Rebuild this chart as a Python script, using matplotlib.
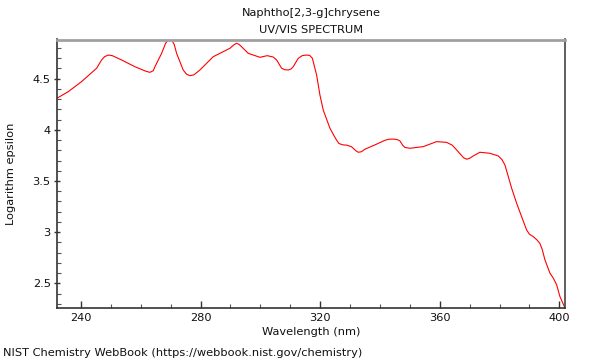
import matplotlib
matplotlib.use("Agg")
import matplotlib.pyplot as plt
from matplotlib.ticker import MultipleLocator

wavelength = [232.0, 235.75, 240.2, 245.25, 246.92, 247.9, 249.13, 250.5, 253.6, 258.06,
              261.8, 263.08, 264.2, 264.75, 266.99, 268.3, 269.2, 270.33, 271.2, 272.0,
              274.2, 275.3, 276.45, 277.8, 279.8, 284.25, 289.83, 291.2, 292.07, 292.9,
              293.75, 295.95, 299.87, 302.3, 304.3, 305.45, 307.12, 308.2, 309.33, 310.3,
              311.0, 312.68, 314.0, 315.25, 316.5, 317.4, 318.1, 318.83, 319.93, 321.04,
              323.28, 324.6, 325.4, 326.3, 327.73, 329.0, 330.5, 332.0, 332.74, 333.8,
              334.98, 338.33, 341.67, 343.0, 344.45, 345.8, 346.69, 347.6, 348.36, 350.03,
              354.48, 358.96, 362.31, 364.2, 365.65, 368.0, 369.0, 370.0, 371.2, 373.44,
              376.79, 379.57, 380.8, 381.81, 384.05, 385.72, 387.39, 389.06, 390.0, 391.27,
              392.5, 393.51, 394.3, 395.18, 396.86, 398.0, 399.1, 400.2, 401.87]
log_eps = [4.309, 4.373, 4.471, 4.602, 4.683, 4.715, 4.731, 4.725, 4.683, 4.617,
           4.572, 4.562, 4.578, 4.617, 4.748, 4.845, 4.878, 4.878, 4.835, 4.748,
           4.585, 4.545, 4.529, 4.538, 4.585, 4.715, 4.797, 4.832, 4.846, 4.835,
           4.812, 4.748, 4.709, 4.725, 4.712, 4.683, 4.602, 4.588, 4.585, 4.595,
           4.617, 4.699, 4.725, 4.731, 4.728, 4.700, 4.620, 4.536, 4.341, 4.194,
           4.016, 3.945, 3.905, 3.866, 3.853, 3.850, 3.835, 3.795, 3.781, 3.786,
           3.811, 3.853, 3.898, 3.908, 3.910, 3.905, 3.892, 3.850, 3.828, 3.820,
           3.836, 3.885, 3.878, 3.850, 3.804, 3.727, 3.713, 3.722, 3.745, 3.781,
           3.771, 3.745, 3.710, 3.657, 3.430, 3.283, 3.152, 3.022, 2.980, 2.957,
           2.925, 2.890, 2.830, 2.730, 2.600, 2.550, 2.486, 2.371, 2.261]

x_ticks = [240, 280, 320, 360, 400]
y_ticks = [2.5, 3.0, 3.5, 4.0, 4.5]
y_tick_labels = ["2.5", "3", "3.5", "4", "4.5"]

FS = 8.2
fig = plt.figure(figsize=(6, 3.6), dpi=100)
ax = fig.add_axes([57/600, 1 - 307.7/360, (565-57)/600, (307.7-39.5)/360])

ax.plot(wavelength, log_eps, color="#ff0000", lw=0.8)
ax.set_xlim(232.0, 401.9)
ax.set_ylim(2.262, 4.883)

ax.set_xticks(x_ticks)
ax.set_xticklabels([str(t) for t in x_ticks])
ax.set_yticks(y_ticks)
ax.set_yticklabels(y_tick_labels)
ax.xaxis.set_minor_locator(MultipleLocator(10))
ax.yaxis.set_minor_locator(MultipleLocator(0.1))

ax.tick_params(axis="x", which="major", direction="in", length=5, width=1, color="#333333",
               labelsize=FS, pad=4, labelcolor="#111111")
ax.tick_params(axis="y", which="major", direction="inout", length=5, width=1, color="#333333",
               labelsize=FS, pad=2, labelcolor="#111111")
ax.tick_params(which="minor", direction="in", length=3, width=0.8, color="#555555")

for s in ["left", "bottom"]:
    ax.spines[s].set_color("#333333")
    ax.spines[s].set_linewidth(1.2)
ax.spines["top"].set_color("#a0a0a0")
ax.spines["top"].set_linewidth(2)
ax.spines["right"].set_color("#444444")
ax.spines["right"].set_linewidth(1.2)

ax.set_xlabel("Wavelength (nm)", fontsize=FS, color="#111111", va="center")
ax.set_ylabel("Logarithm epsilon", fontsize=FS, color="#111111", va="center")
ax.xaxis.set_label_coords(0.5, (307.7 - 332) / 268.2)
ax.yaxis.set_label_coords((11 - 57) / 508, 0.5)

fig.text(311/600, 1 - 13/360, "Naphtho[2,3-g]chrysene", ha="center", va="center", fontsize=FS, color="#111111")
fig.text(311/600, 1 - 30/360, "UV/VIS SPECTRUM", ha="center", va="center", fontsize=FS, color="#111111")
fig.text(3/600, 1 - 353/360, "NIST Chemistry WebBook (https://webbook.nist.gov/chemistry)",
         ha="left", va="center", fontsize=FS, color="#111111")

fig.savefig("out.png", dpi=100)
